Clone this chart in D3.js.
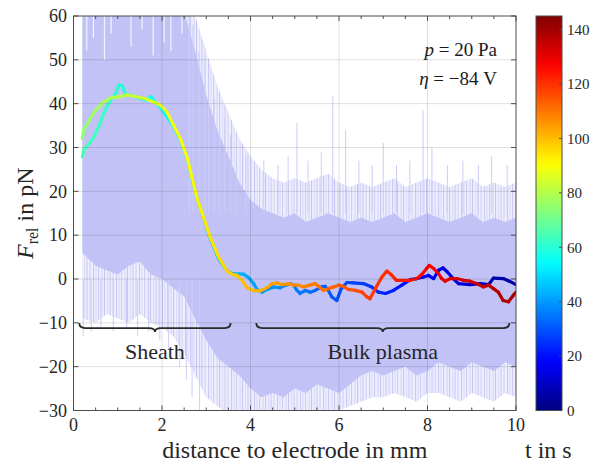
<!DOCTYPE html>
<html>
<head>
<meta charset="utf-8">
<script src="https://cdn.jsdelivr.net/npm/d3@7"></script>
<style>
  html, body { margin: 0; padding: 0; background: #fff; }
  svg { display: block; }
</style>
</head>
<body>
<svg id="chart" width="592" height="462"></svg>
<script>
// ---- axis ticks ----
const xTicks = [0, 2, 4, 6, 8, 10];
const xMinorTicks = [0.5, 1, 1.5, 2.5, 3, 3.5, 4.5, 5, 5.5, 6.5, 7, 7.5, 8.5, 9, 9.5];
const yTicks = [-30, -20, -10, 0, 10, 20, 30, 40, 50, 60];
const cbTicks = [0, 20, 40, 60, 80, 100, 120, 140];

// ---- raw force noise: envelope of the dense core and of the sparse fringe ----
const noiseX = [0.2,0.5,0.75,1,1.25,1.5,1.75,2,2.25,2.5,2.75,3,3.25,3.5,3.75,4,4.25,4.5,4.75,5,5.25,5.5,5.75,6,6.25,6.5,6.75,7,7.25,7.5,7.75,8,8.25,8.5,8.75,9,9.25,9.5,9.75,10];
const denseHi = [62,62,62,62,62,62,62,62,62,61,52,42,34,28,22,18,16,15,14,15,13,14,15,14,13,14,13,14,15,13,14,15,14,13,14,15,13,14,13,14];
const denseLo = [6,3,2,1,3,4,1,0,-2,-4,-9,-14,-18,-20,-22,-25,-27,-26,-27,-25,-26,-24,-25,-26,-24,-22,-21,-22,-21,-20,-22,-21,-19,-20,-21,-19,-20,-21,-19,-20];
const sparseHi = [62,62,62,62,62,62,62,62,62,62,60,52,44,38,32,28,25,23,22,23,22,23,24,22,21,22,21,22,23,21,22,23,22,21,22,23,21,22,21,22];
const sparseLo = [-9,-10,-8,-9,-10,-8,-10,-11,-13,-17,-22,-27,-29,-31,-31,-31,-31,-31,-31,-31,-31,-31,-31,-30,-29,-28,-27,-27,-26,-27,-28,-26,-26,-27,-28,-26,-27,-28,-26,-27];
// isolated excursions of the raw signal [x, F]
const upSpikes = [[2.62,62],[2.7,58],[2.83,52],[2.97,50.5],[3.05,44],[3.18,41],[3.3,39],[3.42,36],[3.55,33],[3.68,30],[3.9,28],[4.3,27],[4.62,26],[4.85,28],[5.05,35.6],[5.3,27],[5.6,29],[5.86,41.7],[6.15,34],[6.45,27],[6.75,26],[7.0,31],[7.3,26],[7.6,27],[7.9,38.5],[8.1,30],[8.45,26],[8.8,27],[9.15,26],[9.45,28],[9.8,26]];
const downSpikes = [[0.22,-13],[0.4,-12],[0.62,-11],[0.9,-12],[1.2,-11],[1.45,-13],[1.7,-12],[1.95,-14],[2.15,-16],[2.4,-20],[2.55,-23],[2.68,-27],[2.85,-30]];
// gaps in the saturated part of the signal near the electrode [x, lowest F of gap]
const topGaps = [[0.3,52],[0.45,55],[0.7,50],[0.85,56],[1.3,53],[1.55,57],[1.8,51],[2.05,54],[2.2,52],[2.45,56]];

// ---- smoothed force, pass towards the electrode ----
const inX = [10.0,9.85,9.71,9.49,9.38,9.19,8.96,8.70,8.58,8.45,8.35,8.25,8.14,8.02,7.91,7.76,7.61,7.42,7.23,7.05,6.89,6.74,6.55,6.33,6.18,6.05,5.95,5.84,5.76,5.69,5.61,5.46,5.35,5.24,5.12,5.05,4.97,4.90,4.79,4.67,4.52,4.37,4.26,4.15,4.07,3.96,3.84,3.73,3.62,3.50,3.40,3.28,3.09,2.94,2.79,2.68,2.57,2.42,2.26,2.11,1.96,1.81,1.74,1.66,1.51,1.36,1.17,1.10,1.02,0.95,0.84,0.68,0.57,0.46,0.35,0.23,0.20];
const inF = [-1.3,-0.5,0.1,0.2,-1.3,-1.05,-1.3,-1.05,0.1,1.6,2.5,2.0,0.1,0.8,0.45,0.1,-0.15,-1.4,-2.6,-3.3,-3.0,-1.8,-1.05,-0.9,-0.8,-2.2,-4.9,-4.1,-2.6,-1.7,-1.8,-2.6,-3.0,-2.6,-3.3,-2.6,-1.4,-1.05,-1.4,-2.0,-1.8,-2.4,-3.0,-2.4,-1.05,0.3,1.1,1.2,1.2,1.6,2.8,4.6,9.2,13.8,18.4,22.8,27.3,31.6,34.8,37.0,39.2,40.8,41.6,40.8,41.2,41.7,42.3,44.2,44.2,42.3,40.8,37.8,34.7,32.4,30.9,29.4,27.9];
const inT = [5,5.9,6.8,8.1,8.8,10.0,11.4,13.0,13.7,14.5,15.1,15.7,16.4,17.1,17.8,18.7,19.6,20.8,22.0,23.1,24.0,25.0,26.1,27.5,28.4,29.2,29.8,30.5,30.9,31.4,31.9,32.8,33.5,34.1,34.9,35.3,35.8,36.2,36.9,37.6,38.5,39.5,40.1,40.8,41.3,42.0,42.7,43.4,44.0,44.8,45.4,46.1,47.3,48.2,49.1,49.8,50.5,51.4,52.4,53.3,54.2,55.2,55.6,56.1,57.0,57.9,59.1,59.5,60.0,60.4,61.1,62.0,62.7,63.4,64.1,64.8,65.0];

// ---- smoothed force, pass away from the electrode ----
const outX = [0.20,0.23,0.35,0.50,0.68,0.87,1.06,1.21,1.36,1.51,1.66,1.81,1.96,2.11,2.26,2.42,2.57,2.68,2.79,2.94,3.09,3.28,3.47,3.60,3.69,3.81,3.92,4.07,4.22,4.37,4.49,4.60,4.71,4.86,4.97,5.09,5.20,5.35,5.46,5.54,5.65,5.76,5.88,5.99,6.10,6.21,6.37,6.52,6.63,6.70,6.82,6.97,7.08,7.18,7.30,7.46,7.61,7.76,7.87,7.98,8.04,8.14,8.25,8.32,8.40,8.51,8.66,8.81,8.96,9.11,9.26,9.38,9.49,9.60,9.71,9.83,9.94,10.0];
const outF = [32.1,34.0,36.2,38.5,40.4,41.4,41.6,42.0,41.7,41.4,41.0,40.4,39.7,38.1,35.1,31.9,27.6,23.0,18.5,14.0,9.5,5.0,1.8,1.0,0.85,-0.3,-2.0,-2.6,-2.7,-2.0,-1.05,-0.9,-1.3,-1.05,-1.4,-1.4,-1.8,-1.4,-1.05,-1.7,-2.6,-2.2,-1.8,-1.4,-1.7,-2.4,-2.6,-3.0,-4.1,-4.5,-2.2,0.45,1.8,1.0,-0.3,-0.3,-0.3,0.1,1.0,2.4,3.1,2.4,1.2,0.1,-0.5,0.1,0.1,-0.3,-0.5,-1.05,-1.8,-1.4,-2.2,-3.0,-4.9,-5.2,-3.7,-3.0];
const outT = [75.0,75.2,76.0,77.0,78.2,79.4,80.7,81.7,82.7,83.7,84.7,85.7,86.7,87.7,88.7,89.7,90.7,91.4,92.2,93.2,94.2,95.4,96.7,97.6,98.1,98.9,99.7,100.7,101.7,102.7,103.5,104.2,104.9,105.9,106.6,107.4,108.2,109.2,109.9,110.4,111.1,111.9,112.7,113.4,114.1,114.9,115.9,116.9,117.7,118.1,118.9,119.9,120.6,121.3,122.1,123.2,124.2,125.1,125.9,126.6,127.0,127.7,128.4,128.9,129.4,130.1,131.1,132.1,133.1,134.1,135.1,135.9,136.6,137.4,138.1,138.9,139.6,140.0];

// ---- region annotations ----
const regionNames = ["Sheath", "Bulk plasma"];
const regionFrom = [0.13, 4.13];
const regionTo = [3.55, 9.85];
const regionBraceF = -11.2;
const regionLabelF = -18.3;

const tMax = 145;
const SERIF = "Liberation Serif";

// MATLAB-style jet colour map
function jet(v) {
  const c = k => Math.max(0, Math.min(1, 1.5 - Math.abs(4 * v - k)));
  return d3.rgb(255 * c(3), 255 * c(2), 255 * c(1)).formatHex();
}

const svg = d3.select("#chart");
const x = d3.scaleLinear([0, 10], [73.5, 516]);
const y = d3.scaleLinear([-30, 60], [410.5, 16]);
const tc = d3.scaleLinear([0, tMax], [410.5, 16]);

const defs = svg.append("defs");
defs.append("clipPath").attr("id", "plotClip")
  .append("rect").attr("x", x(0)).attr("y", y(60)).attr("width", x(10) - x(0)).attr("height", y(-30) - y(60));

// streaky texture for the sparse fringe of the raw signal
const streaks = defs.append("pattern").attr("id", "streaks").attr("patternUnits", "userSpaceOnUse")
  .attr("width", 23).attr("height", 40);
streaks.append("rect").attr("width", 23).attr("height", 40).attr("fill", "#eeeefd");
[[1, "#c9c9f7"], [3.5, "#dadafa"], [6, "#cdcdf8"], [9.5, "#d6d6f9"], [12, "#c6c6f6"], [15, "#dcdcfa"], [17.5, "#cbcbf7"], [20.5, "#d3d3f9"]]
  .forEach(([px, col]) => streaks.append("rect").attr("x", px).attr("y", 0).attr("width", 1.1).attr("height", 40).attr("fill", col));

const plot = svg.append("g").attr("clip-path", "url(#plotClip)");

// raw signal
const band = (lo, hi) => d3.area().x((d, i) => x(noiseX[i])).y0((d, i) => y(lo[i])).y1((d, i) => y(hi[i]));
plot.append("path").datum(noiseX).attr("d", band(sparseLo, sparseHi)).attr("fill", "url(#streaks)");
plot.append("path").datum(noiseX).attr("d", band(denseLo, denseHi)).attr("fill", "#c2c2f6");

plot.selectAll("line.up").data(upSpikes).join("line").attr("class", "up")
  .attr("x1", d => x(d[0])).attr("x2", d => x(d[0]))
  .attr("y1", d => y(15)).attr("y2", d => y(d[1]))
  .attr("stroke", "#cdcdf8").attr("stroke-width", 1);
plot.selectAll("line.down").data(downSpikes).join("line").attr("class", "down")
  .attr("x1", d => x(d[0])).attr("x2", d => x(d[0]))
  .attr("y1", d => y(0)).attr("y2", d => y(d[1]))
  .attr("stroke", "#cdcdf8").attr("stroke-width", 1);
plot.selectAll("line.gap").data(topGaps).join("line").attr("class", "gap")
  .attr("x1", d => x(d[0])).attr("x2", d => x(d[0]))
  .attr("y1", y(62)).attr("y2", d => y(d[1]))
  .attr("stroke", "#fff").attr("stroke-opacity", 0.8).attr("stroke-width", 1.2);

// grid
const grid = svg.append("g").attr("stroke", "#000").attr("stroke-opacity", 0.12).attr("stroke-width", 1);
xTicks.slice(1, -1).forEach(v => grid.append("line").attr("x1", x(v)).attr("x2", x(v)).attr("y1", y(60)).attr("y2", y(-30)));
yTicks.slice(1, -1).forEach(v => grid.append("line").attr("x1", x(0)).attr("x2", x(10)).attr("y1", y(v)).attr("y2", y(v)));

// smoothed force, coloured by time
function drawPass(xs, fs, ts) {
  const g = plot.append("g").attr("fill", "none").attr("stroke-width", 3.2).attr("stroke-linecap", "round");
  for (let i = 0; i < xs.length - 1; i++) {
    g.append("line")
      .attr("x1", x(xs[i])).attr("y1", y(fs[i]))
      .attr("x2", x(xs[i + 1])).attr("y2", y(fs[i + 1]))
      .attr("stroke", jet((ts[i] + ts[i + 1]) / 2 / tMax));
  }
}
drawPass(inX, inF, inT);
drawPass(outX, outF, outT);

// text helper with the serif face applied directly
function label(parent, px, py, size, anchor) {
  return parent.append("text").attr("x", px).attr("y", py)
    .attr("text-anchor", anchor || "start").attr("font-size", size)
    .attr("fill", "#262626").style("font-family", `"${SERIF}"`);
}

// braces
function underBrace(x0, x1, yy) {
  const xm = (x0 + x1) / 2, r = 6;
  return `M${x0},${yy - 5} Q${x0},${yy} ${x0 + r},${yy} L${xm - r},${yy} Q${xm},${yy} ${xm},${yy + 4}` +
         ` Q${xm},${yy} ${xm + r},${yy} L${x1 - r},${yy} Q${x1},${yy} ${x1},${yy - 5}`;
}
regionNames.forEach((name, i) => {
  svg.append("path").attr("d", underBrace(x(regionFrom[i]), x(regionTo[i]), y(regionBraceF)))
    .attr("fill", "none").attr("stroke", "#2a2a2a").attr("stroke-width", 1.8);
  label(svg, x((regionFrom[i] + regionTo[i]) / 2), y(regionLabelF), 22, "middle").text(name);
});

// axes box and ticks
const axisColor = "#4d4d4d";
svg.append("rect").attr("x", x(0)).attr("y", y(60)).attr("width", x(10) - x(0)).attr("height", y(-30) - y(60))
  .attr("fill", "none").attr("stroke", axisColor).attr("stroke-width", 1);
const ticks = svg.append("g").attr("stroke", axisColor).attr("stroke-width", 1);
xTicks.forEach(v => {
  ticks.append("line").attr("x1", x(v)).attr("x2", x(v)).attr("y1", y(-30)).attr("y2", y(-30) - 5);
  ticks.append("line").attr("x1", x(v)).attr("x2", x(v)).attr("y1", y(60)).attr("y2", y(60) + 5);
});
xMinorTicks.forEach(v => {
  ticks.append("line").attr("x1", x(v)).attr("x2", x(v)).attr("y1", y(-30)).attr("y2", y(-30) - 3);
  ticks.append("line").attr("x1", x(v)).attr("x2", x(v)).attr("y1", y(60)).attr("y2", y(60) + 3);
});
yTicks.forEach(v => {
  ticks.append("line").attr("x1", x(0)).attr("x2", x(0) + 5).attr("y1", y(v)).attr("y2", y(v));
  ticks.append("line").attr("x1", x(10)).attr("x2", x(10) - 5).attr("y1", y(v)).attr("y2", y(v));
});

const fmt = v => (v < 0 ? "\u2212" + Math.abs(v) : String(v));
xTicks.forEach(v => label(svg, x(v), 431, 18, "middle").text(fmt(v)));
yTicks.forEach(v => label(svg, 67, y(v), 18, "end").attr("dy", "0.35em").text(fmt(v)));

// axis titles
label(svg, (x(0) + x(10)) / 2, 458, 24, "middle").text("distance to electrode in mm");
const yl = label(svg, 0, 0, 24, "middle").attr("transform", `translate(33,${(y(60) + y(-30)) / 2}) rotate(-90)`);
yl.append("tspan").attr("font-style", "italic").text("F");
yl.append("tspan").attr("font-size", 16).attr("dy", 5).text("rel");
yl.append("tspan").attr("dy", -5).text(" in pN");

// parameters
const p1 = label(svg, 497, 56, 19, "end").attr("fill", "#1a1a1a");
p1.append("tspan").attr("font-style", "italic").text("p");
p1.append("tspan").text(" = 20 Pa");
const p2 = label(svg, 497, 85, 19, "end").attr("fill", "#1a1a1a");
p2.append("tspan").attr("font-style", "italic").text("\u03b7");
p2.append("tspan").text(" = \u221284 V");

// colour bar
const grad = defs.append("linearGradient").attr("id", "jetGrad")
  .attr("x1", 0).attr("y1", 1).attr("x2", 0).attr("y2", 0);
d3.range(0, 1.0001, 0.02).forEach(v => grad.append("stop").attr("offset", v).attr("stop-color", jet(v)));
const cbX = 536, cbW = 26;
svg.append("rect").attr("x", cbX).attr("y", tc(tMax)).attr("width", cbW).attr("height", tc(0) - tc(tMax))
  .attr("fill", "url(#jetGrad)").attr("stroke", axisColor).attr("stroke-width", 1);
cbTicks.forEach(v => {
  svg.append("line").attr("x1", cbX + cbW).attr("x2", cbX + cbW - 3).attr("y1", tc(v)).attr("y2", tc(v))
    .attr("stroke", axisColor);
  label(svg, cbX + cbW + 5, tc(v), 15).attr("dy", "0.35em").text(v);
});
label(svg, 525, 458, 24).text("t in s");
</script>
</body>
</html>
